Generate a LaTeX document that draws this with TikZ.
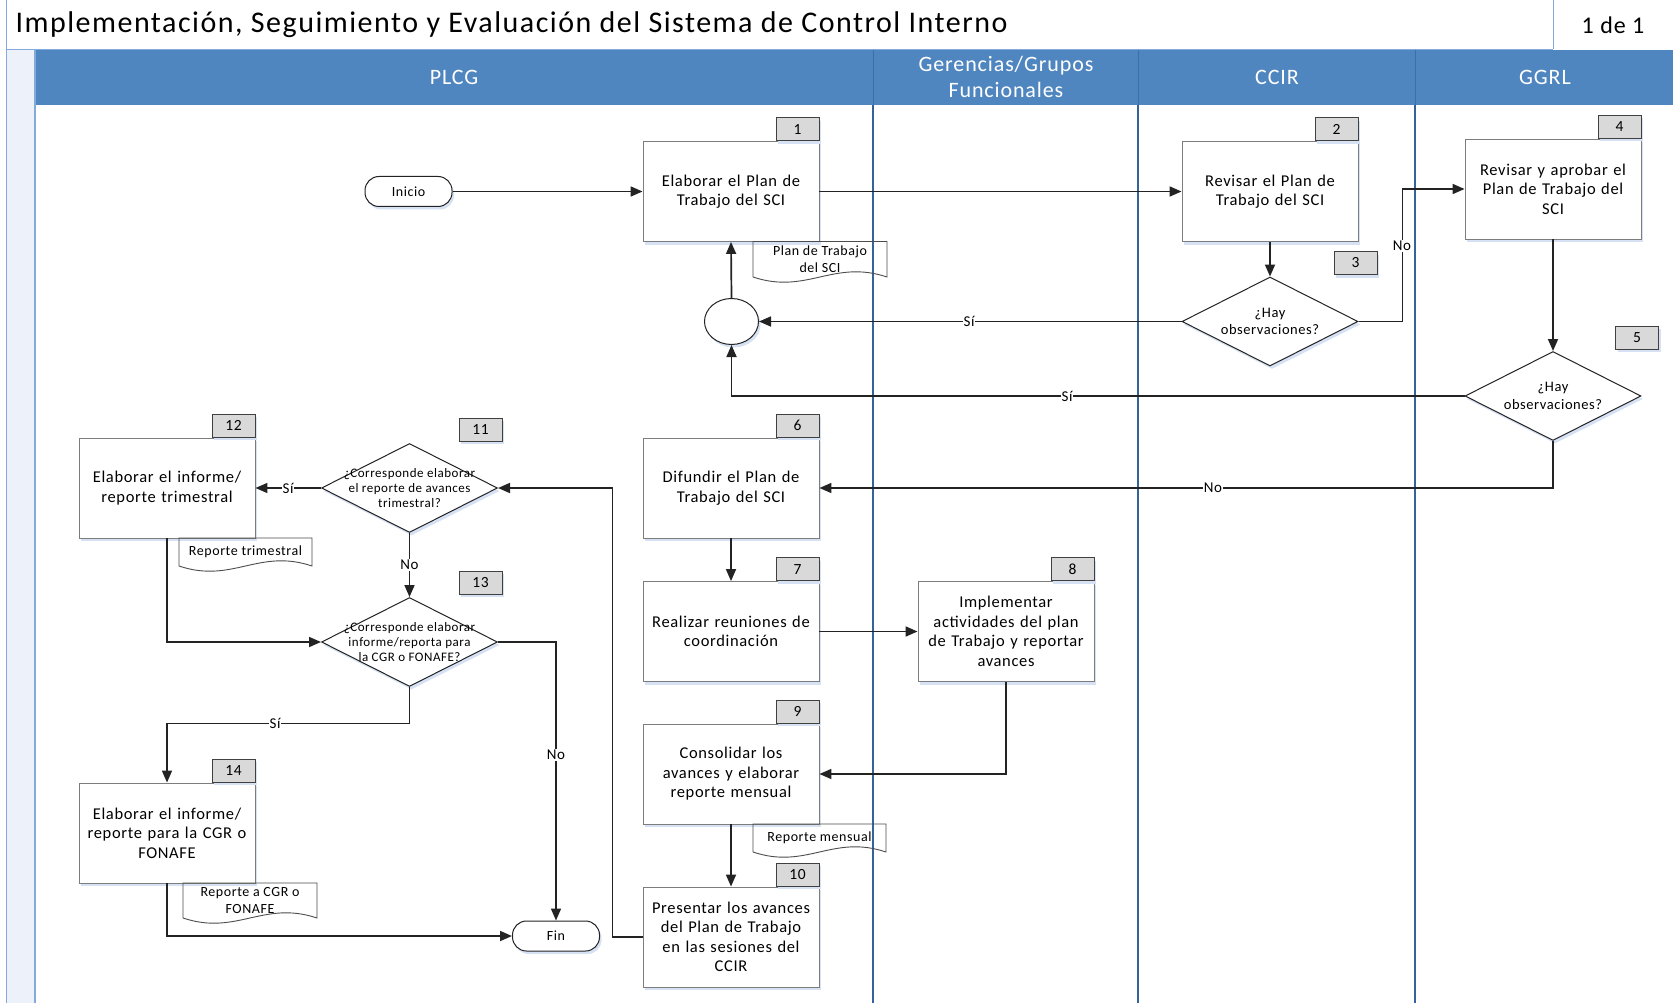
\documentclass[tikz,border=0pt]{standalone}
\usepackage{fontspec}
\setmainfont{Carlito}[LetterSpace=4]
\newfontfamily\titlecar{Carlito}[LetterSpace=5]
\usetikzlibrary{shapes.geometric,arrows.meta,shadows,calc}
\definecolor{hdrblue}{RGB}{79,134,192}
\definecolor{hdrsep}{RGB}{62,110,165}
\definecolor{laneblue}{RGB}{50,100,155}
\definecolor{stripfill}{RGB}{237,241,250}
\definecolor{stripline}{RGB}{130,170,220}
\definecolor{boxline}{RGB}{125,125,125}
\definecolor{tagfill}{RGB}{217,217,217}
\definecolor{ink}{RGB}{35,35,35}
\definecolor{shade}{RGB}{214,226,244}
\newcommand{\SetFS}[2]{\fontsize{#1}{#2}\selectfont}
\newcommand{\DocShape}[6]{%
  \pgfmathsetmacro{\dw}{#4-#2}%
  \draw[docline] (#2,#5) -- (#2,#3) -- (#4,#3) -- (#4,#5)
     .. controls +(-0.4*\dw,-18) and +(0.4*\dw,18) .. (#2,#5);
  \node[doctext] (#1) at ($(#2,#3)!0.5!(#4,#5)$) {#6};
}
\tikzset{
  shad/.style={drop shadow={shadow xshift=2pt, shadow yshift=-3pt, fill=shade, draw=none, opacity=1}},
  proc/.style={draw=boxline, line width=0.9pt, fill=white, minimum width=176pt, minimum height=100pt,
     text width=172pt, align=center, inner sep=0pt, font=\SetFS{16.5}{19.5}, shad},
  tagbox/.style={draw=black!75, line width=0.9pt, fill=tagfill, minimum width=43pt, minimum height=23pt,
     inner sep=0pt, font=\SetFS{15.5}{18}, shad},
  decision/.style={diamond, draw=ink, line width=1pt, fill=white, minimum width=176pt, minimum height=89pt,
     inner sep=0pt, shad},
  dtext/.style={align=center, font=\SetFS{14.5}{17.5}, inner sep=0pt},
  dtextsm/.style={align=center, font=\SetFS{13}{15}, inner sep=0pt},
  term/.style={draw=ink, line width=1pt, fill=white, rounded corners=14pt, minimum width=87pt,
     minimum height=30pt, inner sep=0pt, font=\SetFS{14}{17}, shad},
  conn/.style={draw=ink, line width=1.7pt, -{Triangle[length=12pt,width=10pt]}},
  lbl/.style={fill=white, inner sep=1pt, font=\SetFS{15}{18}},
  docline/.style={draw=black!70, line width=0.9pt},
  doctext/.style={align=center, font=\SetFS{14}{16.5}, inner sep=0pt},
  hdr/.style={text=white, align=center, font=\SetFS{22}{25.5}},
}
\begin{document}
\begin{tikzpicture}[x=1pt,y=-1pt]
\useasboundingbox (0,0) rectangle (1673,1003);
\fill[white] (0,0) rectangle (1673,1003);
% ---------- frame and header ----------
\fill[stripfill] (6,49) rectangle (35,1003);
\draw[stripline, line width=1pt] (6,0) -- (6,1003);
\draw[stripline, line width=0.8pt] (6,49) -- (1553,49);
\draw[stripline, line width=0.8pt] (1553,0) -- (1553,49);
\fill[hdrblue] (35,50) rectangle (1673,105);
\draw[stripline, line width=1.2pt] (35,50) -- (35,1003);
\foreach \lx in {873,1138,1415}{
  \draw[hdrsep, line width=0.8pt] (\lx,50) -- (\lx,105);
  \draw[laneblue, line width=1.6pt] (\lx,105) -- (\lx,1003);
}
\node[anchor=west, font=\titlecar\SetFS{30}{34}] (title) at (12,25) {Implementación, Seguimiento y Evaluación del Sistema de Control Interno};
\node[font=\SetFS{24}{28}] (page) at (1613,25) {1 de 1};
\node[hdr] (hA) at (454,77) {PLCG};
\node[hdr] (hB) at (1006,77) {Gerencias/Grupos\\Funcionales};
\node[hdr] (hC) at (1277,77) {CCIR};
\node[hdr] (hD) at (1545,77) {GGRL};
% ---------- process boxes ----------
\node[proc] (b1) at (731,191.5) {Elaborar el Plan de\\Trabajo del SCI};
\node[proc] (b2) at (1270,191.5) {Revisar el Plan de\\Trabajo del SCI};
\node[proc] (b4) at (1553,189) {Revisar y aprobar el\\Plan de Trabajo del\\SCI};
\node[proc] (b6) at (731,488) {Difundir el Plan de\\Trabajo del SCI};
\node[proc] (b7) at (731,631.5) {Realizar reuniones de\\coordinación};
\node[proc] (b8) at (1006,631.5) {Implementar\\actividades del plan\\de Trabajo y reportar\\avances};
\node[proc] (b9) at (731,774) {Consolidar los\\avances y elaborar\\reporte mensual};
\node[proc] (b10) at (731,937) {Presentar los avances\\del Plan de Trabajo\\en las sesiones del\\CCIR};
\node[proc] (b12) at (167,488) {Elaborar el informe/\\reporte trimestral};
\node[proc] (b14) at (167,833) {Elaborar el informe/\\reporte para la CGR o\\FONAFE};
% ---------- decisions ----------
\node[decision] (d3) at (1270,321.5) {};
\node[dtext] (d3t) at (d3) {¿Hay\\observaciones?};
\node[decision] (d5) at (1553,396) {};
\node[dtext] (d5t) at (d5) {¿Hay\\observaciones?};
\node[decision] (d11) at (409.5,488) {};
\node[dtextsm] (d11t) at (d11) {¿Corresponde elaborar\\el reporte de avances\\trimestral?};
\node[decision] (d13) at (409.5,642) {};
\node[dtextsm] (d13t) at (d13) {¿Corresponde elaborar\\informe/reporta para\\la CGR o FONAFE?};
% ---------- terminals and connector circle ----------
\node[term] (ini) at (408.5,191.5) {Inicio};
\node[term] (fin) at (556,936) {Fin};
\node[ellipse, draw=ink, line width=1pt, fill=white, minimum width=54pt, minimum height=46pt, inner sep=0pt, shad] (c) at (731.5,321.5) {};
% ---------- number tags ----------
\node[tagbox, anchor=south east] (t1) at (b1.north east) {1};
\node[tagbox, anchor=south east] (t2) at (b2.north east) {2};
\node[tagbox] (t3) at (1355.5,263) {3};
\node[tagbox, anchor=south east] (t4) at (b4.north east) {4};
\node[tagbox] (t5) at (1637,337.5) {5};
\node[tagbox, anchor=south east] (t6) at (b6.north east) {6};
\node[tagbox, anchor=south east] (t7) at (b7.north east) {7};
\node[tagbox, anchor=south east] (t8) at (b8.north east) {8};
\node[tagbox, anchor=south east] (t9) at (b9.north east) {9};
\node[tagbox, anchor=south east] (t10) at (b10.north east) {10};
\node[tagbox] (t11) at (480.5,429.5) {11};
\node[tagbox, anchor=south east] (t12) at (b12.north east) {12};
\node[tagbox] (t13) at (480.5,582.5) {13};
\node[tagbox, anchor=south east] (t14) at (b14.north east) {14};
% ---------- documents ----------
\DocShape{doc1}{753}{241.5}{887}{277}{Plan de Trabajo\\del SCI}
\DocShape{doc9}{753}{824}{886}{852}{Reporte mensual}
\DocShape{doc12}{179}{538}{312}{566}{Reporte trimestral}
\DocShape{doc14}{183}{883}{317}{918}{Reporte a CGR o\\FONAFE}
% ---------- connectors ----------
\draw[conn] (ini.east) -- (b1.west);
\draw[conn] (b1.east) -- (b2.west);
\draw[conn] (b2.south) -- (d3.north);
\draw[conn] (d3.west) -- (c.east);
\draw[conn] (c.north) -- (b1.south);
\draw[conn] (d3.east) -- ++(44,0) |- (b4.west);
\draw[conn] (b4.south) -- (d5.north);
\draw[conn] (d5.west) -| (c.south);
\draw[conn] (d5.south) |- (b6.east);
\draw[conn] (b6.south) -- (b7.north);
\draw[conn] (b7.east) -- (b8.west);
\draw[conn] (b8.south) |- (b9.east);
\draw[conn] (b9.south) -- (b10.north);
\draw[conn] (b10.west) -- ++(-30,0) |- (d11.east);
\draw[conn] (d11.west) -- (b12.east);
\draw[conn] (d11.south) -- (d13.north);
\draw[conn] (b12.south) |- (d13.west);
\draw[conn] (d13.east) -| (fin.north);
\draw[conn] (d13.south) -- ++(0,36.5) -| (b14.north);
\draw[conn] (b14.south) |- (fin.west);
% ---------- connector labels ----------
\node[lbl] (l1) at (969,321.5) {Sí};
\node[lbl] (l2) at (1402,246) {No};
\node[lbl] (l3) at (1067,396) {Sí};
\node[lbl] (l4) at (1213,488) {No};
\node[lbl] (l5) at (288,488) {Sí};
\node[lbl] (l6) at (409.5,565) {No};
\node[lbl] (l7) at (275,723) {Sí};
\node[lbl] (l8) at (556,755) {No};
\end{tikzpicture}
\end{document}
